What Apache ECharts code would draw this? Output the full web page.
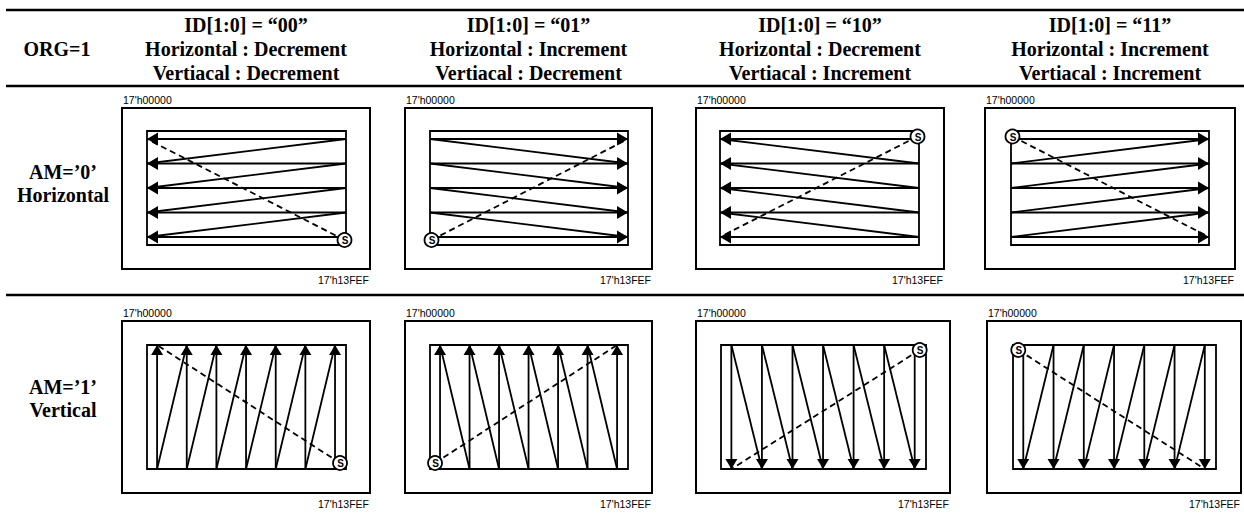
<!DOCTYPE html>
<html><head><meta charset="utf-8">
<script src="https://cdn.jsdelivr.net/npm/echarts@6/dist/echarts.min.js"></script>
<style>html,body{margin:0;padding:0;background:#fff}#c{width:1244px;height:514px}</style>
</head><body><div id="c"></div>
<script>
// ---------- data ----------
const orgLabel = 'ORG=1';
const idCodes = ['00', '01', '10', '11'];
const hDirs = ['Decrement', 'Increment', 'Decrement', 'Increment'];
const vDirs = ['Decrement', 'Decrement', 'Increment', 'Increment'];
const modeNames = ['AM=’0’', 'AM=’1’'];
const modeScan = ['Horizontal', 'Vertical'];
const hScanLines = [0, 1, 2, 3, 4];          // AM=0 : scan rows
const vScanLines = [0, 1, 2, 3, 4, 5, 6];    // AM=1 : scan columns
const startAddr = "17'h00000";
const endAddr = "17'h13FEF";

// ---------- layout (pixels) ----------
const L = {
  rules: [10, 86, 295],
  ruleX: [6, 1244],
  headerY: [25, 49, 73],
  labelX: 57,
  rows: [
    { outerTop: 108, outerBottom: 269, innerTop: 131, innerBottom: 245, modeY: [172, 195],
      outer: [[122, 370], [405, 652], [696, 944], [985, 1235]],
      inner: [[147, 346], [430, 628], [720, 919], [1011, 1209]] },
    { outerTop: 321, outerBottom: 493, innerTop: 345, innerBottom: 469, modeY: [387, 410],
      outer: [[122, 370], [405, 652], [696, 950], [987, 1241]],
      inner: [[147, 346], [430, 628], [721, 926], [1013, 1216]] }
  ]
};
const SERIF = 'bold 20px "Liberation Serif", "Times New Roman", serif';
const SANS = '10.5px "Liberation Sans", Arial, sans-serif';
const LW = 1.8;

function seg(a, b, dash) {
  return { type: 'line', shape: { x1: a[0], y1: a[1], x2: b[0], y2: b[1] },
    style: { stroke: '#000', lineWidth: LW, lineDash: dash || null } };
}
function arrow(tip, from, len, hw) {
  const dx = tip[0] - from[0], dy = tip[1] - from[1];
  const d = Math.hypot(dx, dy) || 1;
  const ux = dx / d, uy = dy / d;
  const bx = tip[0] - ux * len, by = tip[1] - uy * len;
  return { type: 'polygon', shape: { points: [[tip[0], tip[1]], [bx - uy * hw, by + ux * hw], [bx + uy * hw, by - ux * hw]] },
    style: { fill: '#000' } };
}

function makeScanRender(mode, p) {
  const hInc = hDirs[p] === 'Increment', vInc = vDirs[p] === 'Increment';
  return function (params, api) {
    const k = api.value(0);
    let s, e, fa = null, fb = null;
    if (mode === 0) {
      const xs = hInc ? 0 : 1, xe = 1 - xs;
      s = api.coord([xs, k]); e = api.coord([xe, k]);
      if (k < hScanLines.length - 1) {
        if (vInc) { fa = api.coord([xe, k]); fb = api.coord([xs, k + 1]); }
        else { fa = api.coord([xe, k + 1]); fb = api.coord([xs, k]); }
      }
    } else {
      const ys = vInc ? 0 : 1, ye = 1 - ys;
      s = api.coord([k, ys]); e = api.coord([k, ye]);
      if (k < vScanLines.length - 1) {
        if (hInc) { fa = api.coord([k, ye]); fb = api.coord([k + 1, ys]); }
        else { fa = api.coord([k + 1, ye]); fb = api.coord([k, ys]); }
      }
    }
    const kids = [seg(s, e)];
    if (fa) kids.push(seg(fa, fb));
    kids.push(mode === 0 ? arrow(e, s, 11, 6.5) : arrow(e, s, 10, 6));
    return { type: 'group', children: kids };
  };
}

function makeStartRender(mode, p) {
  const hInc = hDirs[p] === 'Increment', vInc = vDirs[p] === 'Increment';
  return function (params, api) {
    let s, e, cx, cy;
    if (mode === 0) {
      const n = hScanLines.length - 1;
      const xs = hInc ? 0 : 1, xe = 1 - xs;
      const first = vInc ? 0 : n, last = vInc ? n : 0;
      s = api.coord([xs, first]); e = api.coord([xe, last]);
      cx = s[0] + (hInc ? 1.5 : -1.5); cy = s[1] + (vInc ? -2.5 : 3);
    } else {
      const n = vScanLines.length - 1;
      const ys = vInc ? 0 : 1, ye = 1 - ys;
      const first = hInc ? 0 : n, last = hInc ? n : 0;
      s = api.coord([first, ys]); e = api.coord([last, ye]);
      cx = s[0] + (hInc ? -5 : 5); cy = s[1] + (vInc ? 5 : -6);
    }
    return { type: 'group', children: [
      seg([cx, cy], e, [6, 4]),
      { type: 'circle', shape: { cx: cx, cy: cy, r: 7 }, style: { fill: '#fff', stroke: '#000', lineWidth: 1.8 } },
      { type: 'text', x: cx + 0.5, y: cy + 0.5, style: { text: 'S', font: 'bold 10px "Liberation Sans", Arial, sans-serif', fill: '#000',
        align: 'center', verticalAlign: 'middle', textAlign: 'center', textVerticalAlign: 'middle' } }
    ] };
  };
}

const grids = [], xAxes = [], yAxes = [], series = [], graphics = [];
function txt(x, y, text, font, align) {
  return { type: 'text', x: x, y: y, style: { text: text, font: font, fill: '#000',
    align: align || 'center', verticalAlign: 'middle', textAlign: align || 'center', textVerticalAlign: 'middle' } };
}
// rules
L.rules.forEach(function (y) {
  graphics.push({ type: 'line', shape: { x1: L.ruleX[0], y1: y, x2: L.ruleX[1], y2: y }, style: { stroke: '#000', lineWidth: 2.6 } });
});
// header
graphics.push(txt(L.labelX, L.headerY[1], orgLabel, SERIF));
idCodes.forEach(function (id, p) {
  const o = L.rows[0].outer[p], cx = (o[0] + o[1]) / 2;
  graphics.push(txt(cx, L.headerY[0], 'ID[1:0] = “' + id + '”', SERIF));
  graphics.push(txt(cx, L.headerY[1], 'Horizontal : ' + hDirs[p], SERIF));
  graphics.push(txt(cx, L.headerY[2], 'Vertiacal : ' + vDirs[p], SERIF));
});

L.rows.forEach(function (row, mode) {
  graphics.push(txt(L.labelX + 6, row.modeY[0], modeNames[mode], SERIF));
  graphics.push(txt(L.labelX + 6, row.modeY[1], modeScan[mode], SERIF));
  idCodes.forEach(function (id, p) {
    const o = row.outer[p], inn = row.inner[p];
    graphics.push({ type: 'rect', shape: { x: o[0], y: row.outerTop, width: o[1] - o[0], height: row.outerBottom - row.outerTop },
      style: { fill: 'none', stroke: '#000', lineWidth: 2 } });
    graphics.push(txt(o[0] + 1, row.outerTop - 8, startAddr, SANS, 'left'));
    graphics.push(txt(o[1] - 1, row.outerBottom + 11, endAddr, SANS, 'right'));
    const gi = grids.length;
    grids.push({ left: inn[0], top: row.innerTop, width: inn[1] - inn[0], height: row.innerBottom - row.innerTop,
      show: true, borderColor: '#000', borderWidth: LW, backgroundColor: 'transparent', containLabel: false });
    const hidden = { show: false, axisLine: { show: false }, axisTick: { show: false }, axisLabel: { show: false }, splitLine: { show: false } };
    if (mode === 0) {
      xAxes.push(Object.assign({ gridIndex: gi, type: 'value', min: 0, max: 1 }, hidden));
      yAxes.push(Object.assign({ gridIndex: gi, type: 'value', min: -0.327, max: hScanLines.length - 1 + 0.327, inverse: true }, hidden));
    } else {
      xAxes.push(Object.assign({ gridIndex: gi, type: 'value', min: -0.34, max: vScanLines.length - 1 + 0.37 }, hidden));
      yAxes.push(Object.assign({ gridIndex: gi, type: 'value', min: 0, max: 1, inverse: true }, hidden));
    }
    const lines = mode === 0 ? hScanLines : vScanLines;
    series.push({ type: 'custom', xAxisIndex: gi, yAxisIndex: gi, clip: false, silent: true, z: 2,
      renderItem: makeScanRender(mode, p), data: lines.map(function (k) { return [k, 0]; }) });
    series.push({ type: 'custom', xAxisIndex: gi, yAxisIndex: gi, clip: false, silent: true, z: 3,
      renderItem: makeStartRender(mode, p), data: [[0, 0]] });
  });
});

const chart = echarts.init(document.getElementById('c'), null, { renderer: 'svg', width: 1244, height: 514 });
chart.setOption({
  animation: false,
  backgroundColor: '#fff',
  grid: grids, xAxis: xAxes, yAxis: yAxes, series: series,
  graphic: { elements: graphics }
});
</script></body></html>
